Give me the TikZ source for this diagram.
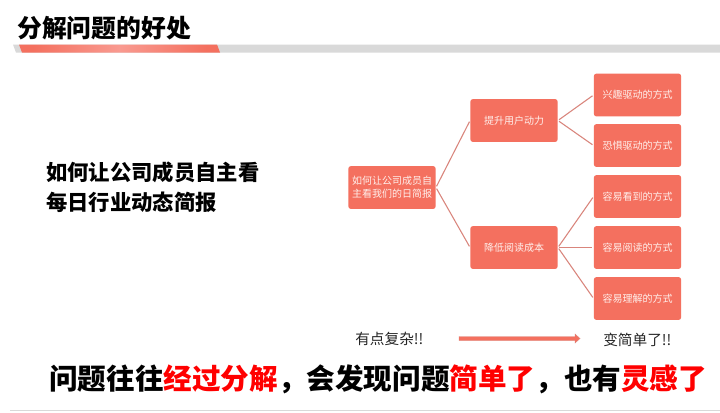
\documentclass[tikz,border=0pt]{standalone}
\usepackage{fontspec}
\setmainfont{Noto Sans CJK SC}
\definecolor{boxred}{HTML}{F4705F}
\definecolor{linered}{HTML}{D9857C}
\definecolor{barred}{HTML}{F4705F}
\definecolor{barlight}{HTML}{F99A90}
\definecolor{bargray}{HTML}{D9D9D9}
\definecolor{boxtext}{HTML}{FFF0EC}
\definecolor{hired}{HTML}{FF0000}
\tikzset{
  px/.style={x=0.75pt,y=-0.75pt},
  box/.style={fill=boxred,rounded corners=2pt,minimum width=65.5pt,minimum height=32.2pt,inner sep=0pt,align=center,text=boxtext,font=\fontsize{7.5}{9.6}\selectfont},
  link/.style={draw=linered,line width=0.8pt},
  txt/.style={inner sep=0pt,anchor=west},
  heading/.style={txt,font=\fontsize{18.6}{22}\selectfont\bfseries,text=black},
  lead/.style={txt,align=left,font=\fontsize{16}{22.5}\selectfont\bfseries,text=black},
  note/.style={txt,font=\fontsize{11}{13}\selectfont,text=black!85},
  punch/.style={txt,font=\fontsize{21.45}{26}\selectfont\bfseries,text=black},
}
\begin{document}
\begin{tikzpicture}[px]
\useasboundingbox (0,0) rectangle (720,412);
\fill[white] (0,0) rectangle (720,412);
% title bar
\fill[bargray] (13,44.5) -- (720,44.5) -- (720,52.5) -- (16,52.5) -- cycle;
\shade[left color=barred,right color=barred,middle color=barlight,shading angle=80]
  (19,44.5) -- (217,44.5) -- (220,52.5) -- (22,52.5) -- cycle;
\node[heading] (title) at (17,28) {分解问题的好处};
% lead
\node[lead] (lead) at (46,187) {如何让公司成员自主看\\每日行业动态简报};
% tree
\node[box] (root) at (392,187.5) {如何让公司成员自\\主看我们的日简报};
\node[box] (m1) at (514,120.5) {提升用户动力};
\node[box] (m2) at (514,247.5) {降低阅读成本};
\node[box] (l1) at (637.5,95) {兴趣驱动的方式};
\node[box] (l2) at (637.5,145.5) {恐惧驱动的方式};
\node[box] (l3) at (637.5,196.5) {容易看到的方式};
\node[box] (l4) at (637.5,247.5) {容易阅读的方式};
\node[box] (l5) at (637.5,298.5) {容易理解的方式};
\draw[link,shorten <=1pt,shorten >=1pt] (root.east) -- (m1.west);
\draw[link,shorten <=1pt,shorten >=1pt] (root.east) -- (m2.west);
\draw[link,shorten <=1pt,shorten >=1pt] (m1.east) -- (l1.west);
\draw[link,shorten <=1pt,shorten >=1pt] (m1.east) -- (l2.west);
\draw[link,shorten <=1pt,shorten >=1pt] (m2.east) -- (l3.west);
\draw[link,shorten <=1pt,shorten >=1pt] (m2.east) -- (l4.west);
\draw[link,shorten <=1pt,shorten >=1pt] (m2.east) -- (l5.west);
% notes and arrow
\node[note] (n1) at (355,339) {有点复杂!!};
\node[note] (n2) at (603,340) {变简单了!!};
\coordinate (as) at (459,338.5);
\coordinate (ae) at (580,338.5);
\fill[boxred,draw=linered,line width=0.3pt]
  (459,336.5) -- (575,336.5) -- (575,334) -- (580,338.5) -- (575,343) -- (575,340.5) -- (459,340.5) -- cycle;
% punch line
\node[punch] (p) at (49,379) {问题往往\textcolor{hired}{经过分解}，会发现问题\textcolor{hired}{简单了}，也有\textcolor{hired}{灵感了}};
% bottom rule
\fill[bargray] (10,409.5) rectangle (720,411);
\end{tikzpicture}
\end{document}
